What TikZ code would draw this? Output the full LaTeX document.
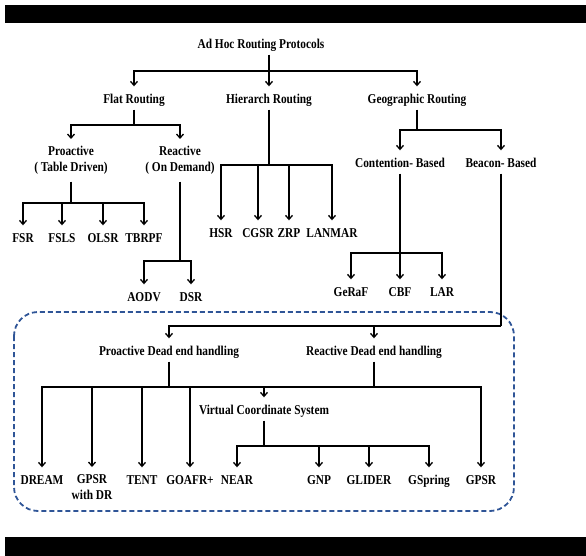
\documentclass[tikz,border=0pt]{standalone}
\usepackage{fontspec}
\setmainfont[FakeStretch=0.84]{Liberation Serif}
\usetikzlibrary{arrows.meta, positioning, calc}
\usepackage{xcolor}
\definecolor{framedashblue}{RGB}{47, 85, 151}
\definecolor{barblack}{RGB}{0, 0, 0}
\tikzset{
    term/.style={
        inner xsep=1pt,
        inner ysep=6pt,
        text height=11pt,
        text depth=0pt,
        font=\fontsize{13.5}{16}\selectfont\bfseries
    },
    term pair/.style={
        inner xsep=1pt,
        inner ysep=7pt,
        align=center,
        font=\fontsize{13.5}{16}\selectfont\bfseries
    },
    branch/.style={
        line width=1.3pt,
        draw=black
    },
    arrow/.style={
        branch,
        -{Straight Barb[length=4pt, width=7pt]}
    }
}

\begin{document}
\begin{tikzpicture}[
    x=1pt, y=-1pt,
    dead end frame/.style={rounded corners=24pt, draw=framedashblue,
                          line width=1.8pt, dash pattern=on 5pt off 3pt}
]

\useasboundingbox (0,0) rectangle (586,556);

% Black bars
\fill[barblack] (5,5) rectangle (586,22.7);
\fill[barblack] (5,537) rectangle (586,556);

% Title
\node[term] (root) at (261,43) {Ad Hoc Routing Protocols};

% === MAIN CLASSES ===
\node[term] (flat) at (134,98) {Flat Routing};
\node[term] (hier) at (269,98) {Hierarch Routing};
\node[term] (geo) at (417,98) {Geographic Routing};

\coordinate (rootbar) at (269,71);
\draw[branch] (root.south -| rootbar) -- (rootbar);
\foreach \n in {flat, hier, geo}
    \draw[arrow] (rootbar) -| (\n);

% === FLAT ROUTING ===
\node[term pair, anchor=north] (pro) at (71,139) {Proactive\\( Table Driven)};
\node[term pair, anchor=north] (rea) at (180,139) {Reactive\\( On Demand)};

\coordinate (flatbar) at (134,125);
\draw[branch] (flat) -- (flatbar);
\draw[arrow] (flatbar) -| (pro);
\draw[arrow] (flatbar) -| (rea);

% Proactive protocols
\node[term] (fsr) at (23,237) {FSR};
\node[term] (fsls) at (62,237) {FSLS};
\node[term] (olsr) at (103,237) {OLSR};
\node[term] (tbrpf) at (144,237) {TBRPF};

\coordinate (probar) at (71,203);
\draw[branch] (pro) -- (probar);
\foreach \n in {fsr, fsls, olsr, tbrpf}
    \draw[arrow] (probar) -| (\n);

% Reactive protocols
\node[term] (aodv) at (144,296) {AODV};
\node[term] (dsr) at (191,296) {DSR};

\coordinate (reabar) at (180,261);
\draw[branch] (rea) -- (reabar);
\draw[arrow] (reabar) -| (aodv);
\draw[arrow] (reabar) -| (dsr);

% === HIERARCH ROUTING ===
\node[term] (hsr) at (221,232) {HSR};
\node[term] (cgsr) at (258,232) {CGSR};
\node[term] (zrp) at (289,232) {ZRP};
\node[term] (lanmar) at (332,232) {LANMAR};

\coordinate (hierbar) at (269,165);
\draw[branch] (hier) -- (hierbar);
\foreach \n in {hsr, cgsr, zrp, lanmar}
    \draw[arrow] (hierbar) -| (\n);

% === GEOGRAPHIC ROUTING ===
\node[term] (cont) at (400,162) {Contention- Based};
\node[term] (beac) at (501,162) {Beacon- Based};

\coordinate (geobar) at (417,130);
\draw[branch] (geo) -- (geobar);
\draw[arrow] (geobar) -| (cont);
\draw[arrow] (geobar) -| (beac);

% Contention based protocols
\node[term] (geraf) at (351,291) {GeRaF};
\node[term] (cbf) at (400,291) {CBF};
\node[term] (lar) at (442,291) {LAR};

\coordinate (contbar) at (400,253);
\draw[branch] (cont) -- (contbar);
\foreach \n in {geraf, cbf, lar}
    \draw[arrow] (contbar) -| (\n);

% === DEAD END HANDLING ===
\draw[dead end frame] (14,312) rectangle (514,511);

\node[term] (pdeh) at (169,350) {Proactive Dead end handling};
\node[term] (rdeh) at (374,350) {Reactive Dead end handling};

\coordinate (beacbar) at (501,326);
\draw[branch] (beac) -- (beacbar);
\draw[arrow] (beacbar) -| (pdeh);
\draw[arrow] (beacbar) -| (rdeh);

% Handling schemes
\node[term] (dream) at (42,479) {DREAM};
\node[term pair, anchor=north] (gpsrdr) at (92,467) {GPSR\\with DR};
\node[term] (tent) at (142,479) {TENT};
\node[term] (goafr) at (190,479) {GOAFR+};
\node[term] (vcs) at (264,409) {Virtual Coordinate System};
\node[term] (gpsr) at (481,479) {GPSR};

\coordinate (pbar) at (169,387);
\coordinate (rbar) at (374,387);
\draw[branch] (pdeh) -- (pbar);
\draw[branch] (rdeh) -- (rbar);
\draw[branch] (pbar) -- (rbar);
\foreach \n in {dream, gpsrdr, tent, goafr, vcs}
    \draw[arrow] (pbar) -| (\n);
\draw[arrow] (rbar) -| (gpsr);

% Virtual coordinate protocols
\node[term] (near) at (237,479) {NEAR};
\node[term] (gnp) at (319,479) {GNP};
\node[term] (glider) at (369,479) {GLIDER};
\node[term] (gspring) at (429,479) {GSpring};

\coordinate (vcsbar) at (264,446);
\draw[branch] (vcs) -- (vcsbar);
\foreach \n in {near, gnp, glider, gspring}
    \draw[arrow] (vcsbar) -| (\n);

\end{tikzpicture}
\end{document}
